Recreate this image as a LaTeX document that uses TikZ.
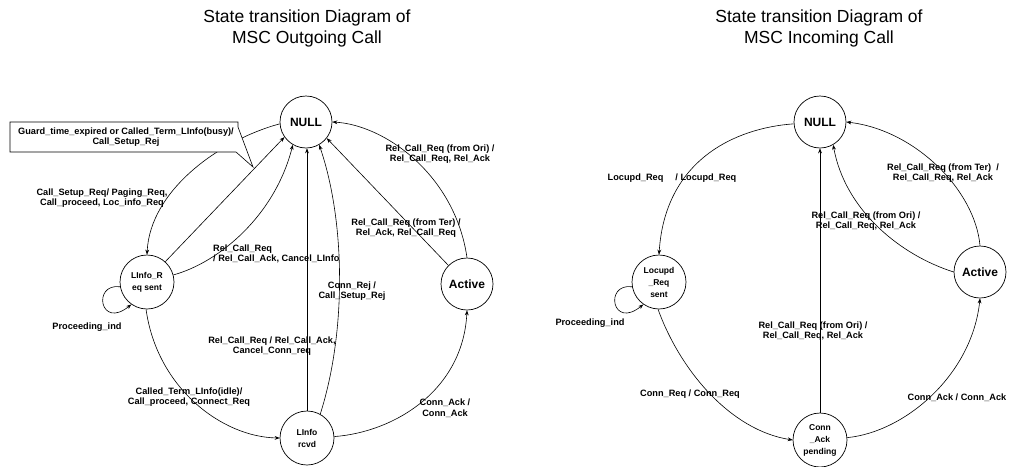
\documentclass[tikz,border=0pt]{standalone}
\usepackage{fontspec}
\setmainfont{Liberation Sans}
\usetikzlibrary{arrows.meta}
\begin{document}
\begin{tikzpicture}[x=1pt,y=-1pt,
  state/.style={circle,draw,line width=0.7pt,inner sep=0pt,minimum size=54pt,
    font=\fontsize{8.5}{12}\selectfont\bfseries,align=center},
  bigstate/.style={state,minimum size=52pt,font=\fontsize{12}{14}\selectfont\bfseries},
  trans/.style={line width=0.6pt,-{Stealth[length=5pt,width=3.8pt]}},
  plain/.style={line width=0.6pt},
  lbl/.style={font=\fontsize{9.2}{10.5}\selectfont\bfseries,align=center,inner sep=0pt},
  heading/.style={font=\fontsize{17.5}{21}\selectfont,align=center,inner sep=0pt}]
\useasboundingbox (0,0) rectangle (1011,466);

% ---------- outgoing call ----------
\node[heading] (titleL) at (307,28) {State transition Diagram of\\MSC Outgoing Call};

\node[bigstate] (nullL)     at (306,122) {NULL};
\node[state]    (linforeq)  at (147,282) {LInfo\_R\\eq sent};
\node[state]    (linforcvd) at (307,438) {LInfo\\rcvd};
\node[bigstate] (activeL)   at (467,284) {Active};

\draw[trans] (nullL.184) .. controls (220,140) and (150,190) .. (linforeq.north);
\draw[trans] (linforeq.48) -- (nullL.215);
\draw[trans] (linforeq.15) .. controls (220,262) and (275,215) .. (nullL.240);
\draw[trans] (linforcvd.north) -- (linforcvd.north |- nullL.south);
\draw[trans] (linforcvd.61) .. controls (347,330) and (345,220) .. (nullL.300);
\draw[trans] (activeL.135) -- (nullL.322);
\draw[trans] (activeL.north) .. controls (455,175) and (385,125) .. (nullL.east);
\draw[trans] (linforeq.268) .. controls (157,388) and (222,437) .. (linforcvd.west);
\draw[trans] (linforcvd.3) .. controls (395,432) and (463,390) .. (activeL.south);
\draw[trans] (linforeq.190) .. controls (92,283) and (100,330) .. (linforeq.235);

% callout for the timeout / busy transition
\draw[plain,fill=white] (10,122) -- (238,122) -- (238,127) -- (253,167)
  -- (236,152) -- (10,152) -- cycle;
\node[lbl] (guard) at (126,137) {Guard\_time\_expired or Called\_Term\_LInfo(busy)/\\Call\_Setup\_Rej};

\node[lbl] (l1) at (102,198) {Call\_Setup\_Req/ Paging\_Req,\\Call\_proceed, Loc\_info\_Req};
\node[lbl,align=left,anchor=west] (l2) at (213,254) {Rel\_Call\_Req\\/ Rel\_Call\_Ack, Cancel\_LInfo};
\node[lbl] (l3) at (352,291) {Conn\_Rej /\\Call\_Setup\_Rej};
\node[lbl] (l4) at (272,346) {Rel\_Call\_Req / Rel\_Call\_Ack,\\Cancel\_Conn\_req};
\node[lbl] (l5) at (406,228) {Rel\_Call\_Req (from Ter) /\\Rel\_Ack, Rel\_Call\_Req};
\node[lbl] (l6) at (440,154) {Rel\_Call\_Req (from Ori) /\\Rel\_Call\_Req, Rel\_Ack};
\node[lbl] (l7) at (189,397) {Called\_Term\_LInfo(idle)/\\Call\_proceed, Connect\_Req};
\node[lbl] (l8) at (445,408) {Conn\_Ack /\\Conn\_Ack};
\node[lbl] (l9) at (87,327) {Proceeding\_ind};

% ---------- incoming call ----------
\node[heading] (titleR) at (819,28) {State transition Diagram of\\MSC Incoming Call};

\node[bigstate] (nullR)   at (820,122) {NULL};
\node[state]    (locupd)  at (659,282) {Locupd\\\_Req\\sent};
\node[state]    (connack) at (820,440) {Conn\\\_Ack\\pending};
\node[bigstate] (activeR) at (980,272) {Active};

\draw[trans] (nullR.184) .. controls (735,128) and (665,160) .. (locupd.north);
\draw[trans] (locupd.190) .. controls (604,283) and (612,330) .. (locupd.235);
\draw[trans] (locupd.268) .. controls (680,370) and (730,430) .. (connack.west);
\draw[trans] (connack.5) .. controls (905,432) and (972,375) .. (activeR.south);
\draw[trans] (connack.north) -- (nullR.south);
\draw[trans] (activeR.west) .. controls (900,255) and (845,210) .. (nullR.300);
\draw[trans] (activeR.north) .. controls (975,190) and (915,130) .. (nullR.east);

\node[lbl] (r1) at (672,178) {Locupd\_Req\hspace{12pt}/ Locupd\_Req};
\node[lbl] (r2) at (590,323) {Proceeding\_ind};
\node[lbl] (r3) at (690,394) {Conn\_Req / Conn\_Req};
\node[lbl] (r4) at (957,398) {Conn\_Ack / Conn\_Ack};
\node[lbl] (r5) at (813,331) {Rel\_Call\_Req (from Ori) /\\Rel\_Call\_Req, Rel\_Ack};
\node[lbl] (r6) at (866,221) {Rel\_Call\_Req (from Ori) /\\Rel\_Call\_Req, Rel\_Ack};
\node[lbl] (r7) at (943,173) {Rel\_Call\_Req (from Ter)\ \ /\\Rel\_Call\_Req, Rel\_Ack};
\end{tikzpicture}
\end{document}
